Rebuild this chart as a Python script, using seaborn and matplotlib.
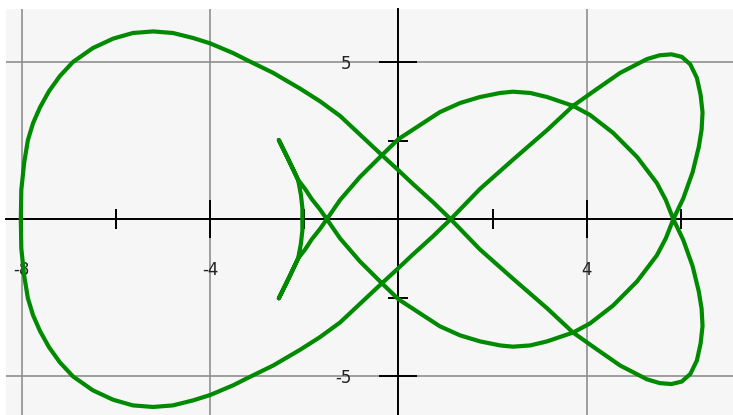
import matplotlib
matplotlib.use("Agg")
import matplotlib.pyplot as plt
import pandas as pd
import seaborn as sns
from matplotlib.ticker import FixedLocator, FixedFormatter

# Closed parametric curve, traced arc by arc (x, y in axis units)
tail_x = [-2.54, -2.32, -2.13, -2.07, -2.04, -2.04, -2.04, -2.07, -2.13, -2.32, -2.54]
tail_y = [2.52, 1.85, 1.25, 0.77, 0.36, 0.00, -0.36, -0.77, -1.25, -1.85, -2.52]

rise_x = [-2.32, -2.13, -1.98, -1.84, -1.67, -1.52]
rise_y = [-1.85, -1.25, -0.96, -0.64, -0.32, 0.00]

hump_x = [-1.24, -0.82, -0.35, 0.00, 0.46, 0.88, 1.31, 1.73, 2.16, 2.43, 2.80, 3.16,
          3.71, 4.07, 4.56, 5.07, 5.49, 5.68, 5.84]
hump_y = [0.61, 1.34, 2.04, 2.55, 3.00, 3.41, 3.70, 3.89, 4.02, 4.06, 4.02, 3.89,
          3.61, 3.32, 2.75, 1.98, 1.15, 0.61, 0.00]

lower_loop_x = [6.05, 6.25, 6.38, 6.44, 6.46, 6.42, 6.34, 6.20, 6.02, 5.80, 5.55, 5.28,
                4.71, 4.22, 3.71, 3.16, 2.43, 1.73, 1.11]
lower_loop_y = [-0.66, -1.50, -2.30, -2.85, -3.40, -3.95, -4.50, -4.93, -5.17, -5.25, -5.22, -5.10,
                -4.66, -4.15, -3.61, -2.84, -1.89, -0.96, 0.00]

upper_arc_x = [0.73, 0.31, -0.03, -0.35, -0.82, -1.24, -1.67, -2.09, -2.66, -3.22, -3.51,
               -4.00, -4.36, -4.79, -5.21, -5.64, -6.06, -6.49, -6.91, -7.19, -7.42, -7.61,
               -7.76, -7.87, -7.95, -8.01, -8.02]
upper_arc_y = [0.55, 1.12, 1.60, 2.04, 2.70, 3.29, 3.76, 4.16, 4.66, 5.07, 5.29,
               5.60, 5.77, 5.93, 5.98, 5.93, 5.75, 5.45, 5.01, 4.56, 4.08, 3.57,
               3.06, 2.52, 1.79, 0.93, 0.00]

lower_arc_x = [-8.01, -7.95, -7.87, -7.76, -7.61, -7.42, -7.19, -6.91, -6.49, -6.06, -5.64,
               -5.21, -4.79, -4.36, -4.00, -3.51, -3.22, -2.66, -2.09, -1.67, -1.24, -0.82,
               -0.35, -0.03, 0.31, 0.73, 1.11]
lower_arc_y = [-0.93, -1.79, -2.52, -3.06, -3.57, -4.08, -4.56, -5.01, -5.45, -5.75, -5.93,
               -5.98, -5.93, -5.77, -5.60, -5.29, -5.07, -4.66, -4.16, -3.76, -3.29, -2.70,
               -2.04, -1.60, -1.12, -0.55, 0.00]

upper_loop_x = [1.73, 2.43, 3.16, 3.71, 4.22, 4.71, 5.28, 5.55, 5.80, 6.02, 6.20, 6.34,
                6.42, 6.46, 6.44, 6.38, 6.25, 6.05, 5.84]
upper_loop_y = [0.96, 1.89, 2.84, 3.61, 4.15, 4.66, 5.10, 5.22, 5.25, 5.17, 4.93, 4.50,
                3.95, 3.40, 2.85, 2.30, 1.50, 0.66, 0.00]

dip_x = [5.68, 5.49, 5.07, 4.56, 4.07, 3.71, 3.16, 2.80, 2.43, 2.16, 1.73, 1.31, 0.88,
         0.46, 0.00, -0.35, -0.82, -1.24, -1.52]
dip_y = [-0.61, -1.15, -1.98, -2.75, -3.32, -3.61, -3.89, -4.02, -4.06, -4.02, -3.89, -3.70,
         -3.41, -3.00, -2.55, -2.04, -1.34, -0.61, 0.00]

return_x = [-1.67, -1.84, -1.98, -2.13, -2.32, -2.54]
return_y = [0.32, 0.64, 0.96, 1.25, 1.85, 2.52]

# Axis ticks and labels
x_major = [-8, -4, 0, 4]
x_major_labels = ["-8", "-4", "", "4"]
x_minor = [-6, -2, 2, 6]
y_major = [-5, 0, 5]
y_major_labels = ["-5", "", "5"]
y_minor = [-2.5, 2.5]

curve_x = (tail_x + rise_x + hump_x + lower_loop_x + upper_arc_x + lower_arc_x
           + upper_loop_x + dip_x + return_x)
curve_y = (tail_y + rise_y + hump_y + lower_loop_y + upper_arc_y + lower_arc_y
           + upper_loop_y + dip_y + return_y)
df = pd.DataFrame({"x": curve_x, "y": curve_y, "step": range(len(curve_x))})

sns.set_theme(style="white")
plt.rcParams["font.family"] = ["DejaVu Sans"]

W, H = 733, 415
fig = plt.figure(figsize=(W / 100, H / 100), dpi=100)
fig.patch.set_facecolor("white")
ax = fig.add_axes([6 / W, 0, (W - 6) / W, (H - 9) / H])
ax.set_facecolor("#f6f6f6")

sns.lineplot(data=df, x="x", y="y", sort=False, estimator=None, ax=ax,
             color="#008a00", linewidth=3.0, zorder=3,
             solid_joinstyle="round", solid_capstyle="round")

ax.set_xlim(-8.335, 7.107)
ax.set_ylim(-6.236, 6.694)
ax.set_xlabel("")
ax.set_ylabel("")

ax.xaxis.set_major_locator(FixedLocator(x_major))
ax.xaxis.set_major_formatter(FixedFormatter(x_major_labels))
ax.xaxis.set_minor_locator(FixedLocator(x_minor))
ax.yaxis.set_major_locator(FixedLocator(y_major))
ax.yaxis.set_major_formatter(FixedFormatter(y_major_labels))
ax.yaxis.set_minor_locator(FixedLocator(y_minor))

ax.grid(which="major", color="#8f8f8f", linewidth=1.2)
ax.set_axisbelow(True)

for side in ("top", "right"):
    ax.spines[side].set_visible(False)
for side in ("left", "bottom"):
    ax.spines[side].set_position(("data", 0))
    ax.spines[side].set_color("black")
    ax.spines[side].set_linewidth(1.4)
    ax.spines[side].set_zorder(2.5)

ax.tick_params(axis="x", which="major", direction="inout", length=27, width=1.4,
               color="black", pad=16.5, labelsize=12, labelcolor="#222222",
               bottom=True)
ax.tick_params(axis="y", which="major", direction="inout", length=28, width=1.4,
               color="black", pad=20, labelsize=12, labelcolor="#222222",
               left=True)
ax.tick_params(which="minor", direction="inout", length=14.4, width=1.4,
               color="black", bottom=True, left=True)

fig.savefig("out.png", dpi=100, facecolor=fig.get_facecolor())
